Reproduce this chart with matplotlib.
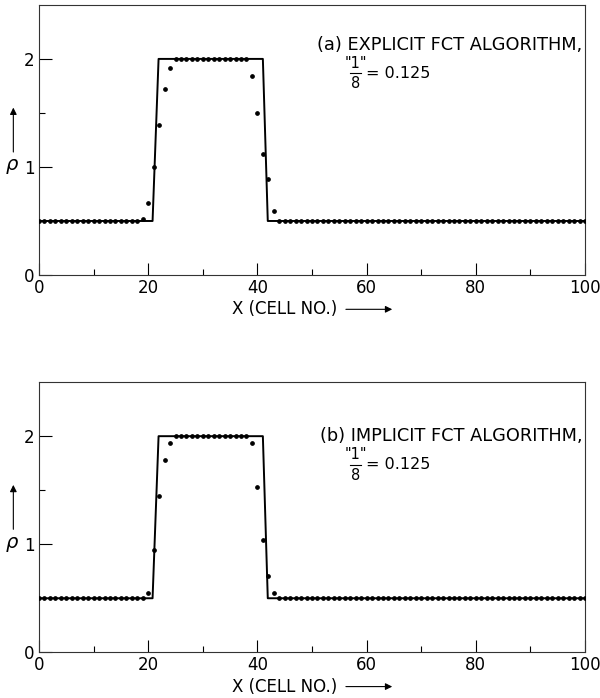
import matplotlib
matplotlib.use("Agg")
import matplotlib.pyplot as plt
import numpy as np
from matplotlib.ticker import FixedLocator

# cell numbers where rho is plotted (one dot per cell)
cells = list(range(0, 101))

# (a) explicit FCT: dots
rho_explicit = ([0.5] * 19
                + [0.52, 0.67, 1.00, 1.39, 1.72, 1.92]
                + [2.0] * 14
                + [1.84, 1.50, 1.12, 0.89, 0.59]
                + [0.5] * 57)

# (b) implicit FCT
rho_implicit = ([0.5] * 20
                + [0.55, 0.95, 1.45, 1.78, 1.94]
                + [2.0] * 14
                + [1.94, 1.53, 1.04, 0.71, 0.55]
                + [0.5] * 57)

# exact square wave (solid line)
exact_x = [0, 20.8, 21.9, 41.0, 41.9, 100]
exact_rho = [0.5, 0.5, 2.0, 2.0, 0.5, 0.5]

panel_titles = ["(a) EXPLICIT FCT ALGORITHM,", "(b) IMPLICIT FCT ALGORITHM,"]
title_y = [2.13, 2.0]

plt.rcParams["font.family"] = "DejaVu Sans"

fig = plt.figure(figsize=(6.0, 6.98), dpi=100)
ax_top = fig.add_axes([0.065, 0.606, 0.91, 0.387])
ax_bot = fig.add_axes([0.065, 0.0655, 0.91, 0.387])

for ax, rho, title, ty in zip([ax_top, ax_bot], [rho_explicit, rho_implicit],
                              panel_titles, title_y):
    ax.plot(exact_x, exact_rho, color="black", lw=1.4, zorder=2)
    ax.plot(cells, rho, linestyle="none", marker="o", ms=2.4,
            color="black", zorder=3)

    ax.set_xlim(0, 100)
    ax.set_ylim(0, 2.5)
    ax.xaxis.set_major_locator(FixedLocator([0, 20, 40, 60, 80, 100]))
    ax.xaxis.set_minor_locator(FixedLocator([10, 30, 50, 70, 90]))
    ax.yaxis.set_major_locator(FixedLocator([0, 1, 2]))
    ax.yaxis.set_minor_locator(FixedLocator([0.5, 1.5]))
    ax.tick_params(which="major", direction="in", length=9, width=0.8,
                   labelsize=12, pad=3)
    ax.tick_params(which="minor", direction="in", length=4.5, width=0.8)
    for sp in ax.spines.values():
        sp.set_linewidth(0.8)
        sp.set_color("#333333")

    ax.text(0.995, ty, title, transform=ax.get_yaxis_transform(),
            ha="right", va="center", fontsize=12.8)
    # "1"/8 = 0.125, drawn as a small stacked fraction
    fx = 58.0
    ax.text(fx, ty - 0.17, '"1"', ha="center", va="center", fontsize=10.5)
    ax.text(fx, ty - 0.36, "8", ha="center", va="center", fontsize=10.5)
    ax.plot([fx - 1.0, fx + 1.0], [ty - 0.265, ty - 0.265], color="black",
            lw=0.8)
    ax.text(fx + 1.8, ty - 0.265, "= 0.125", ha="left", va="center",
            fontsize=11.5)

    # rho label with upward arrow
    ax.text(-0.05, 0.40, r"$\rho$", transform=ax.transAxes,
            ha="center", va="center", fontsize=14)
    ax.annotate("", xy=(-0.047, 0.63), xytext=(-0.047, 0.445),
                xycoords="axes fraction", textcoords="axes fraction",
                arrowprops=dict(arrowstyle="-|>", color="black", lw=0.8,
                                mutation_scale=10))

    # x label with arrow to the right
    ax.text(0.45, -0.127, "X (CELL NO.)", transform=ax.transAxes,
            ha="center", va="center", fontsize=12)
    ax.annotate("", xy=(0.652, -0.127), xytext=(0.557, -0.127),
                xycoords="axes fraction", textcoords="axes fraction",
                arrowprops=dict(arrowstyle="-|>", color="black", lw=0.8,
                                mutation_scale=10))

fig.savefig("out.png", dpi=100)
